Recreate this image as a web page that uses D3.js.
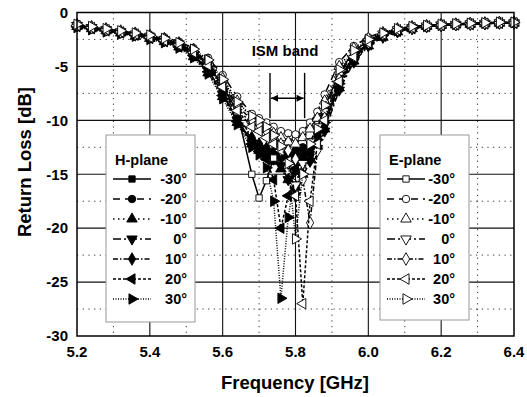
<!DOCTYPE html>
<html>
<head>
<meta charset="utf-8">
<script src="https://cdn.jsdelivr.net/npm/d3@7"></script>
<style>
  body { margin: 0; background: #fff; }
  svg { display: block; font-family: "Liberation Sans", Arial, sans-serif; font-weight: bold; }
</style>
</head>
<body>
<svg id="chart" width="527" height="397"></svg>
<script>
// frequency grid [GHz] (denser around the resonance)
const freq = [5.20, 5.24, 5.28, 5.32, 5.36, 5.40, 5.44, 5.48, 5.52, 5.56, 5.60, 5.64, 5.68,
  5.70, 5.72, 5.74, 5.76, 5.78, 5.80, 5.82, 5.84, 5.86,
  5.88, 5.92, 5.96, 6.00, 6.04, 6.08, 6.12, 6.16, 6.20, 6.24, 6.28, 6.32, 6.36, 6.40];

// H-plane return loss [dB]
const hM30 = [-1.3, -1.5, -1.7, -1.9, -2.1, -2.3, -2.6, -3.1, -3.9, -5.3, -7.5, -9.9, -12.0,
  -12.6, -13.0, -13.3, -13.5, -13.4, -13.2, -13.0, -12.4, -11.6,
  -10.2, -6.6, -4.2, -2.9, -2.1, -1.7, -1.45, -1.3, -1.2, -1.1, -1.05, -1.0, -1.0, -0.95];
const hM20 = [-1.2, -1.4, -1.6, -1.8, -2.0, -2.3, -2.6, -3.0, -3.8, -5.1, -7.2, -9.6, -11.8,
  -12.3, -12.6, -12.9, -13.1, -13.0, -12.8, -12.5, -12.0, -11.2,
  -9.6, -6.2, -4.0, -2.8, -2.0, -1.6, -1.4, -1.25, -1.15, -1.1, -1.05, -1.0, -0.95, -0.95];
const hM10 = [-1.3, -1.5, -1.7, -1.9, -2.2, -2.4, -2.7, -3.2, -4.1, -5.6, -7.8, -10.2, -12.2,
  -12.8, -13.3, -13.8, -14.5, -15.5, -16.2, -15.0, -13.6, -12.4,
  -10.8, -7.0, -4.5, -3.1, -2.3, -1.8, -1.5, -1.3, -1.2, -1.15, -1.1, -1.05, -1.0, -1.0];
const h0 = [-1.2, -1.4, -1.6, -1.8, -2.1, -2.3, -2.6, -3.1, -4.0, -5.4, -7.6, -10.0, -12.1,
  -12.6, -13.0, -13.6, -14.2, -15.5, -17.0, -15.2, -13.8, -12.6,
  -11.0, -7.2, -4.6, -3.1, -2.3, -1.8, -1.5, -1.3, -1.2, -1.15, -1.1, -1.05, -1.0, -1.0];
const hP10 = [-1.2, -1.4, -1.6, -1.8, -2.0, -2.2, -2.5, -2.9, -3.7, -5.0, -7.0, -9.4, -11.6,
  -12.2, -12.6, -13.0, -13.4, -13.6, -13.8, -13.5, -13.0, -12.0,
  -10.4, -6.8, -4.3, -2.9, -2.1, -1.7, -1.45, -1.3, -1.2, -1.1, -1.05, -1.0, -0.95, -0.95];
const hP20 = [-1.3, -1.5, -1.7, -1.9, -2.1, -2.4, -2.7, -3.2, -4.0, -5.5, -7.7, -10.1, -12.2,
  -12.9, -13.6, -15.5, -20.0, -17.0, -14.5, -13.8, -13.0, -12.2,
  -10.6, -6.9, -4.4, -3.0, -2.2, -1.75, -1.5, -1.3, -1.2, -1.15, -1.1, -1.05, -1.0, -1.0];
const hP30 = [-1.4, -1.6, -1.8, -2.0, -2.2, -2.5, -2.8, -3.3, -4.2, -5.7, -8.0, -10.4, -12.5,
  -13.2, -14.4, -17.5, -26.5, -19.0, -14.8, -13.6, -12.8, -11.8,
  -10.2, -6.6, -4.2, -2.9, -2.1, -1.7, -1.45, -1.3, -1.2, -1.1, -1.05, -1.0, -1.0, -0.95];

// E-plane return loss [dB]
const eM30 = [-1.2, -1.4, -1.6, -1.8, -2.0, -2.2, -2.5, -2.9, -3.6, -4.8, -6.8, -9.2, -15.0,
  -17.2, -15.6, -13.5, -12.4, -12.0, -11.6, -11.2, -10.6, -9.8,
  -8.8, -5.6, -3.6, -2.6, -1.9, -1.55, -1.35, -1.2, -1.1, -1.05, -1.0, -0.95, -0.95, -0.9];
const eM20 = [-1.1, -1.3, -1.5, -1.7, -1.9, -2.1, -2.3, -2.7, -3.3, -4.2, -5.8, -7.8, -9.4,
  -9.8, -10.2, -10.6, -11.0, -11.2, -11.3, -11.0, -10.2, -9.2,
  -7.6, -4.6, -3.1, -2.3, -1.8, -1.5, -1.3, -1.2, -1.1, -1.05, -1.0, -0.95, -0.9, -0.9];
const eM10 = [-1.1, -1.3, -1.5, -1.7, -1.9, -2.1, -2.4, -2.8, -3.4, -4.4, -6.1, -8.2, -9.8,
  -10.2, -10.8, -11.2, -11.6, -12.0, -12.2, -11.6, -10.8, -9.8,
  -8.2, -5.0, -3.3, -2.4, -1.85, -1.5, -1.3, -1.2, -1.1, -1.05, -1.0, -0.95, -0.9, -0.9];
const e0 = [-1.2, -1.4, -1.6, -1.8, -2.0, -2.2, -2.5, -2.9, -3.6, -4.7, -6.6, -8.8, -10.4,
  -10.8, -11.4, -12.0, -12.8, -14.0, -16.0, -14.0, -12.0, -10.6,
  -9.2, -5.8, -3.8, -2.7, -2.0, -1.6, -1.4, -1.25, -1.15, -1.1, -1.05, -1.0, -0.95, -0.95];
const eP10 = [-1.2, -1.4, -1.6, -1.8, -2.0, -2.2, -2.5, -2.9, -3.5, -4.6, -6.4, -8.6, -10.0,
  -10.4, -11.0, -11.6, -12.2, -12.8, -13.6, -15.5, -19.5, -12.8,
  -9.8, -6.2, -4.0, -2.8, -2.0, -1.6, -1.4, -1.25, -1.15, -1.1, -1.05, -1.0, -0.95, -0.95];
const eP20 = [-1.2, -1.4, -1.6, -1.8, -2.0, -2.3, -2.6, -3.0, -3.7, -4.9, -6.9, -9.1, -10.6,
  -11.0, -11.6, -12.2, -12.8, -13.8, -17.0, -27.0, -17.5, -12.2,
  -10.0, -6.4, -4.1, -2.8, -2.0, -1.6, -1.4, -1.25, -1.15, -1.1, -1.05, -1.0, -0.95, -0.95];
const eP30 = [-1.1, -1.3, -1.5, -1.7, -1.9, -2.1, -2.4, -2.8, -3.4, -4.4, -6.2, -8.3, -9.6,
  -10.0, -10.6, -11.4, -12.4, -14.0, -21.0, -15.0, -12.2, -10.8,
  -8.6, -5.3, -3.5, -2.5, -1.9, -1.5, -1.3, -1.2, -1.1, -1.05, -1.0, -0.95, -0.9, -0.9];

const angleLabels = ['-30°', '-20°', '-10°', '0°', '10°', '20°', '30°'];
const xTicks = [5.2, 5.4, 5.6, 5.8, 6.0, 6.2, 6.4];
const yTicks = [0, -5, -10, -15, -20, -25, -30];
const ismBand = [5.73, 5.825];

// per-angle look: marker shape, rotation and dash pattern
const styles = [
  { sym: d3.symbolSquare, rot: 0, dash: null, size: 40 },
  { sym: d3.symbolCircle, rot: 0, dash: '7,5', size: 44 },
  { sym: d3.symbolTriangle, rot: 0, dash: '1.5,3.5', size: 48 },
  { sym: d3.symbolTriangle, rot: 180, dash: '8,3,2,3', size: 48 },
  { sym: d3.symbolDiamond, rot: 0, dash: '5,2,1.5,2', size: 46 },
  { sym: d3.symbolTriangle, rot: -90, dash: '3,2', size: 48 },
  { sym: d3.symbolTriangle, rot: 90, dash: '1,1.5', size: 48 }
];

const hSeries = [hM30, hM20, hM10, h0, hP10, hP20, hP30];
const eSeries = [eM30, eM20, eM10, e0, eP10, eP20, eP30];

const svg = d3.select('#chart');
const plotL = 77, plotR = 514, plotT = 12.5, plotB = 336;

const x = d3.scaleLinear().domain([5.2, 6.4]).range([plotL, plotR]);
const y = d3.scaleLinear().domain([-30, 0]).range([plotB, plotT]);

// grid: minor dotted, major solid
const grid = svg.append('g');
d3.range(5.3, 6.4, 0.2).forEach(f => {
  grid.append('line').attr('x1', x(f)).attr('x2', x(f)).attr('y1', plotT).attr('y2', plotB)
    .attr('stroke', '#333').attr('stroke-width', 1).attr('stroke-dasharray', '1.2,4.5');
});
d3.range(-2.5, -30, -5).forEach(v => {
  grid.append('line').attr('x1', plotL).attr('x2', plotR).attr('y1', y(v)).attr('y2', y(v))
    .attr('stroke', '#333').attr('stroke-width', 1).attr('stroke-dasharray', '1.2,4.5');
});
xTicks.slice(1, -1).forEach(f => {
  grid.append('line').attr('x1', x(f)).attr('x2', x(f)).attr('y1', plotT).attr('y2', plotB)
    .attr('stroke', '#111').attr('stroke-width', 1.1);
});
yTicks.slice(1, -1).forEach(v => {
  grid.append('line').attr('x1', plotL).attr('x2', plotR).attr('y1', y(v)).attr('y2', y(v))
    .attr('stroke', '#111').attr('stroke-width', 1.1);
});

const line = d3.line().x((d, i) => x(freq[i])).y(d => y(d));

function drawSeries(data, st, filled) {
  const g = svg.append('g');
  g.append('path').datum(data).attr('d', line)
    .attr('fill', 'none').attr('stroke', '#000').attr('stroke-width', 1.5)
    .attr('stroke-dasharray', st.dash);
  g.selectAll('path.m').data(data).join('path').attr('class', 'm')
    .attr('d', d3.symbol().type(st.sym).size(st.size))
    .attr('transform', (d, i) => `translate(${x(freq[i])},${y(d)}) rotate(${st.rot})`)
    .attr('fill', filled ? '#000' : '#fff').attr('stroke', '#000').attr('stroke-width', 0.9);
}

hSeries.forEach((s, i) => drawSeries(s, styles[i], true));
eSeries.forEach((s, i) => drawSeries(s, styles[i], false));

// frame
svg.append('rect').attr('x', plotL).attr('y', plotT).attr('width', plotR - plotL).attr('height', plotB - plotT)
  .attr('fill', 'none').attr('stroke', '#000').attr('stroke-width', 1.5);

// axes labels
svg.append('g').selectAll('text').data(xTicks).join('text')
  .attr('x', d => x(d)).attr('y', 357).attr('text-anchor', 'middle')
  .attr('font-size', 15).text(d => d.toFixed(1));
svg.append('g').selectAll('text').data(yTicks).join('text')
  .attr('x', 68).attr('y', d => y(d)).attr('dy', '0.35em').attr('text-anchor', 'end')
  .attr('font-size', 15).text(d => d);

svg.append('text').attr('x', 295).attr('y', 389).attr('text-anchor', 'middle')
  .attr('font-size', 18.5).text('Frequency [GHz]');
svg.append('text').attr('transform', 'translate(31,162) rotate(-90)').attr('text-anchor', 'middle')
  .attr('font-size', 18.5).text('Return Loss [dB]');

// ISM band annotation
svg.append('text').attr('x', 285).attr('y', 56).attr('text-anchor', 'middle')
  .attr('font-size', 15).text('ISM band');
const ism = svg.append('g').attr('stroke', '#000').attr('stroke-width', 1.4);
ismBand.forEach(f => {
  ism.append('line').attr('x1', x(f)).attr('x2', x(f)).attr('y1', y(-5.6)).attr('y2', y(-9.8));
});
const ay = y(-7.95);
ism.append('line').attr('x1', x(ismBand[0]) + 1).attr('x2', x(ismBand[1]) - 1).attr('y1', ay).attr('y2', ay);
ism.append('path').attr('fill', '#000').attr('stroke', 'none')
  .attr('d', `M${x(ismBand[0]) + 1},${ay} l7,-3.5 l0,7 z M${x(ismBand[1]) - 1},${ay} l-7,-3.5 l0,7 z`);

// legends
function legend(x0, y0, w, h, title, filled, lineX0, lineX1, textX) {
  const g = svg.append('g');
  g.append('rect').attr('x', x0).attr('y', y0).attr('width', w).attr('height', h)
    .attr('fill', '#fff').attr('stroke', '#999').attr('stroke-width', 1);
  g.append('text').attr('x', lineX0 + 2).attr('y', y0 + 30).attr('font-size', 14.5).text(title);
  angleLabels.forEach((lab, i) => {
    const ry = y0 + 44 + i * 20;
    const st = styles[i];
    g.append('line').attr('x1', lineX0).attr('x2', lineX1).attr('y1', ry).attr('y2', ry)
      .attr('stroke', '#000').attr('stroke-width', 1.5).attr('stroke-dasharray', st.dash);
    g.append('path').attr('d', d3.symbol().type(st.sym).size(st.size)())
      .attr('transform', `translate(${(lineX0 + lineX1) / 2},${ry}) rotate(${st.rot})`)
      .attr('fill', filled ? '#000' : '#fff').attr('stroke', '#000').attr('stroke-width', 0.9);
    g.append('text').attr('x', textX).attr('y', ry).attr('dy', '0.35em').attr('text-anchor', 'end')
      .attr('font-size', 14.5).text(lab);
  });
}
legend(106, 135, 89, 187, 'H-plane', true, 113, 151, 187);
legend(380, 135, 89, 185, 'E-plane', false, 387, 425, 455);
</script>
</body>
</html>
